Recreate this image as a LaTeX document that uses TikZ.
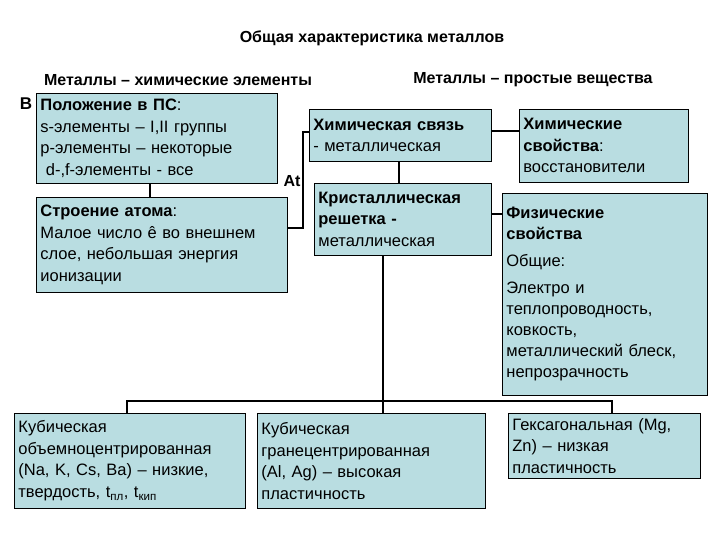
\documentclass[tikz,border=0pt]{standalone}
\usepackage{fontspec}
\setmainfont{Liberation Sans}
\begin{document}
\begin{tikzpicture}[x=1pt,y=-1pt,
  box/.style={draw=black,line width=0.8pt,fill=boxfill,anchor=north west,align=left,inner sep=4pt,font=\fontsize{16.5}{21.5}\selectfont},
  conn/.style={line width=2pt},
  lbl/.style={font=\bfseries\fontsize{16}{18}\selectfont}]
\definecolor{boxfill}{HTML}{B9DDE1}
\useasboundingbox (0,0) rectangle (720,540);
\node[lbl] (title) at (372,38) {Общая характеристика металлов};
\node[lbl] (h1) at (178,80) {Металлы – химические элементы};
\node[lbl] (h2) at (533,80) {Металлы – простые вещества};
\node[lbl,font=\bfseries\fontsize{17}{18}\selectfont] (B) at (26,104) {B};
\node[lbl,font=\bfseries\fontsize{16}{18}\selectfont] (At) at (292,181) {At};

\node[box,minimum width=241pt,minimum height=90pt,text width=233pt] (pos) at (36,93)
 {\textbf{Положение в ПС}:\\s-элементы – I,II группы\\p-элементы – некоторые\\\ d-,f-элементы - все};
\node[box,minimum width=251pt,minimum height=95pt,text width=243pt] (atom) at (36,197)
 {\textbf{Строение атома}:\\Малое число ê во внешнем\\слое, небольшая энергия\\ионизации};
\node[box,minimum width=182pt,minimum height=52pt,text width=174pt,inner ysep=3pt] (bond) at (309,109)
 {\textbf{Химическая связь}\\- металлическая};
\node[box,minimum width=169pt,minimum height=73pt,text width=161pt,inner ysep=2pt] (chem) at (519,109)
 {\textbf{Химические}\\\textbf{свойства}:\\восстановители};
\node[box,minimum width=177pt,minimum height=72pt,text width=169pt,inner ysep=2pt] (cryst) at (314,183)
 {\textbf{Кристаллическая}\\\textbf{решетка -}\\металлическая};
\node[box,minimum width=205pt,minimum height=202pt,text width=197pt,inner ysep=3pt,font=\fontsize{16.5}{21}\selectfont] (phys) at (502,193)
 {\textbf{Физические}\\\textbf{свойства}\\[6pt]Общие:\\[6pt]Электро и\\теплопроводность,\\ковкость,\\металлический блеск,\\непрозрачность};
\node[box,minimum width=231pt,minimum height=95pt,text width=223pt] (bcc) at (14,413)
 {Кубическая\\объемноцентрированная\\(Na, K, Cs, Ba) – низкие,\\твердость, t\textsubscript{пл}, t\textsubscript{кип}};
\node[box,minimum width=228pt,minimum height=95pt,text width=220pt] (fcc) at (257,413)
 {Кубическая\\гранецентрированная\\(Al, Ag) – высокая\\пластичность};
\node[box,minimum width=192pt,minimum height=65pt,text width=184pt] (hex) at (508,413)
 {Гексагональная (Mg,\\Zn) – низкая\\пластичность};

\draw[conn] (pos.south-|150,0) -- (atom.north-|150,0);
\draw[conn] (atom.east|-0,228) -- (303,228) -- (303,132) -- (bond.west|-0,132);
\draw[conn] (bond.east|-0,131) -- (chem.west|-0,131);
\draw[conn] (bond.south-|399,0) -- (cryst.north-|399,0);
\draw[conn] (cryst.east|-0,214) -- (phys.west|-0,214);
\draw[conn] (cryst.south-|383,0) -- (fcc.north-|383,0);
\draw[conn] (bcc.north-|127,0) -- (127,401) -- (612,401) -- (hex.north-|612,0);
\end{tikzpicture}
\end{document}
